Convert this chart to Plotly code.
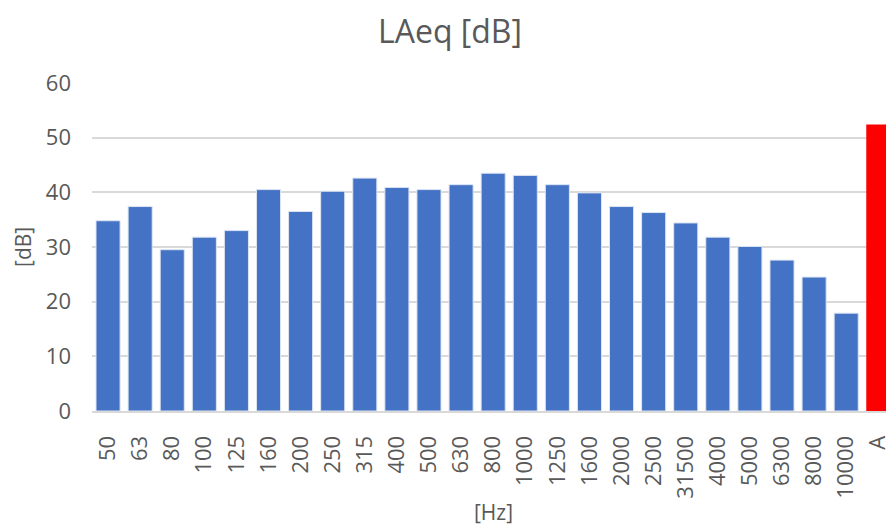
import plotly.graph_objects as go

categories = ["50", "63", "80", "100", "125", "160", "200", "250", "315", "400",
              "500", "630", "800", "1000", "1250", "1600", "2000", "2500", "31500",
              "4000", "5000", "6300", "8000", "10000", "A"]
values = [34.8, 37.4, 29.5, 31.8, 33.0, 40.5, 36.5, 40.2, 42.6, 40.9,
          40.5, 41.4, 43.5, 43.1, 41.4, 39.9, 37.4, 36.3, 34.4,
          31.8, 30.1, 27.6, 24.5, 17.9, 52.4]
y_ticks = [0, 10, 20, 30, 40, 50, 60]

BLUE = "#4472C4"
RED = "#FF0000"
GRAY = "#595959"
FONT = "Open Sans"

colors = [RED if c == "A" else BLUE for c in categories]
line_colors = ["rgba(0,0,0,0)" if c == "A" else "#DCE4F3" for c in categories]

fig = go.Figure(go.Bar(
    x=categories, y=values,
    marker=dict(color=colors, line=dict(color=line_colors, width=1)),
))

W, H = 891, 526
ml, mr, mt, mb = 92, 0, 83, 115

fig.update_layout(
    width=W, height=H,
    margin=dict(l=ml, r=mr, t=mt, b=mb, pad=0),
    plot_bgcolor="white", paper_bgcolor="white",
    bargap=0.25,
    showlegend=False,
    font=dict(family=FONT, color=GRAY, size=21),
    title=dict(text="LAeq [dB]", xref="container", yref="container",
               x=450 / W, y=1 - 32 / H, xanchor="center", yanchor="middle",
               font=dict(family=FONT, size=32, color=GRAY)),
    xaxis=dict(type="category", categoryorder="array", categoryarray=categories,
               range=[-0.5, 24.24], tickangle=-90, ticks="",
               ticklabelstandoff=14, showgrid=False,
               showline=True, linecolor="#D9D9D9", linewidth=2,
               tickfont=dict(size=22, color=GRAY, family=FONT), zeroline=False),
    yaxis=dict(range=[0, 60], tickvals=y_ticks, ticks="",
               ticklabelstandoff=20,
               showgrid=True, gridcolor="#D9D9D9", gridwidth=2,
               zeroline=False, showline=False,
               tickfont=dict(size=22, color=GRAY, family=FONT)),
    annotations=[
        dict(text="[Hz]", xref="paper", yref="paper",
             x=(496 - ml) / (W - ml - mr), y=(H - mb - 512) / (H - mt - mb),
             xanchor="center", yanchor="middle", showarrow=False,
             font=dict(size=21, color=GRAY, family=FONT)),
        dict(text="[dB]", xref="paper", yref="paper",
             x=(22.5 - ml) / (W - ml - mr), y=0.5, textangle=-90,
             xanchor="center", yanchor="middle", showarrow=False,
             font=dict(size=21, color=GRAY, family=FONT)),
    ],
)

fig.write_html(
    "out.html",
    config={"displayModeBar": False},
    post_script="document.body.style.margin='0';document.body.style.overflow='hidden';",
)
